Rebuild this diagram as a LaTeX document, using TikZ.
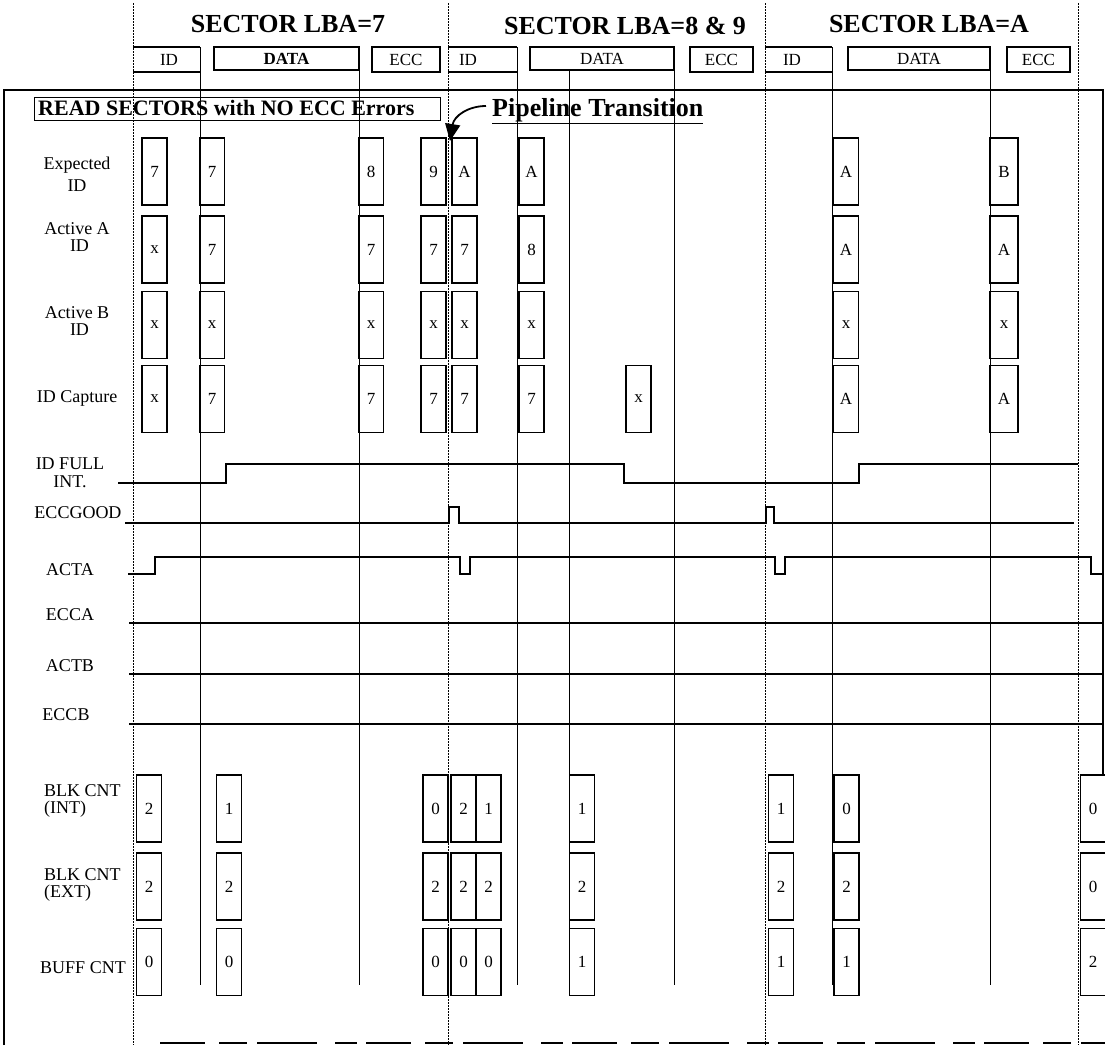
\documentclass[tikz,border=0pt]{standalone}
\usepackage{fontspec}
\setmainfont{Liberation Serif}
\usetikzlibrary{arrows.meta}
\begin{document}
\begin{tikzpicture}[x=1pt,y=-1pt,
  cell/.style={draw,line width=1.3pt,minimum width=25pt,minimum height=67pt,inner sep=0pt,font=\fontsize{17}{17}\selectfont},
  lbl/.style={font=\fontsize{18}{18}\selectfont,align=center,inner sep=0pt},
  hbox/.style={draw,line width=1.2pt,inner sep=0pt,font=\fontsize{17}{17}\selectfont},
  htxt/.style={inner sep=0pt,font=\fontsize{17}{17}\selectfont},
  hline/.style={line width=1.2pt},
  ttl/.style={font=\bfseries\fontsize{26}{26}\selectfont,inner sep=0pt,anchor=base},
  dotl/.style={line width=1pt,dash pattern=on 1.5pt off 1.5pt},
  sol/.style={line width=1pt},
  wave/.style={line width=1.5pt},
  frame/.style={line width=1.4pt},
]
\useasboundingbox (0,0) rectangle (1105,1045);

% titles
\node[ttl] (t1) at (288,32) {SECTOR LBA=7};
\node[ttl] (t2) at (625,34) {SECTOR LBA=8 \& 9};
\node[ttl] (t3) at (929,32) {SECTOR LBA=A};

% frame
\draw[frame] (4,1045) -- (4,90) -- (1103,90) -- (1103,776);
\draw[frame,dash pattern=on 45pt off 14pt on 28pt off 10pt on 60pt off 18pt on 22pt off 9pt] (160,1043) -- (1105,1043);

% dotted sector boundaries
\foreach \i/\x in {1/133,2/448,3/765,4/1078}{
  \coordinate (dt\i) at (\x,3);
  \coordinate (db\i) at (\x,1045);
  \draw[dotl] (dt\i) -- (db\i);
}

% solid vertical lines
\foreach \i/\x/\y in {1/200/47,2/359/47,3/517/47,4/569/70,5/674/47,6/832/47,7/990/47}{
  \coordinate (st\i) at (\x,\y);
  \coordinate (sb\i) at (\x,985);
  \draw[sol] (st\i) -- (sb\i);
}

% header field boxes
\draw[hline] (133,47) -- (200,47) (133,72) -- (200,72);
\draw[hline] (448,47) -- (517,47) (448,72) -- (517,72);
\draw[hline] (765,47) -- (832,47) (765,72) -- (832,72);
\node[htxt] (hid1) at (169,59.5) {ID};
\node[htxt] (hid2) at (468,59.5) {ID};
\node[htxt] (hid3) at (792,59.5) {ID};
\node[hbox,minimum width=145pt,minimum height=23pt] (hdata1) at (286.5,58.5) {\textbf{DATA}};
\node[hbox,minimum width=144pt,minimum height=23pt] (hdata2) at (602,58.5) {DATA};
\node[hbox,minimum width=142pt,minimum height=23pt] (hdata3) at (919,58.5) {DATA};
\node[hbox,minimum width=68pt,minimum height=25pt] (hecc1) at (406,59.5) {ECC};
\node[hbox,minimum width=63pt,minimum height=25pt] (hecc2) at (721.5,59.5) {ECC};
\node[hbox,minimum width=63pt,minimum height=25pt] (hecc3) at (1038.5,59.5) {ECC};

% read box and pipeline note
\node[draw,line width=1.3pt,anchor=north west,minimum width=406pt,minimum height=23pt,inner sep=0pt] (readbox) at (34,97) {};
\node[anchor=base west,inner sep=0pt,font=\bfseries\fontsize{22}{22}\selectfont] (readtxt) at (38,115) {READ SECTORS with NO ECC Errors};
\node[anchor=base west,inner sep=0pt,font=\bfseries\fontsize{26}{26}\selectfont] (pipe) at (492,116) {\underline{Pipeline Transition}};
\coordinate (arrs) at (486,106);
\coordinate (arre) at (450,141);
\draw[line width=1.8pt,-{Triangle[length=17pt,width=15pt]}] (arrs) .. controls (468,106) and (454,116) .. (arre);

% row labels
\node[lbl,font=\fontsize{18}{22}\selectfont] (lexp) at (77,174) {Expected\\ID};
\node[lbl,font=\fontsize{18}{17}\selectfont] (lacta) at (77,237) {Active A\\\hspace*{5pt}ID};
\node[lbl,font=\fontsize{18}{17}\selectfont] (lactb) at (77,321) {Active B\\\hspace*{5pt}ID};
\node[lbl] (lcap) at (77,398) {ID Capture};
\node[lbl,font=\fontsize{18}{18}\selectfont] (lfull) at (70,473) {ID FULL\\INT.};
\node[lbl] (lgood) at (78,513) {ECCGOOD};
\node[lbl] (lacta2) at (70,570) {ACTA};
\node[lbl] (lecca) at (70,615) {ECCA};
\node[lbl] (lactb2) at (70,666) {ACTB};
\node[lbl] (leccb) at (66,715) {ECCB};
\node[lbl,align=left,anchor=west,font=\fontsize{18}{17}\selectfont] (lint) at (44,801) {BLK CNT\\(INT)};
\node[lbl,align=left,anchor=west,font=\fontsize{18}{17}\selectfont] (lext) at (44,885) {BLK CNT\\(EXT)};
\node[lbl] (lbuf) at (83,968) {BUFF CNT};

% waveforms
\draw[wave] (118,483) -- (226,483) -- (226,464) -- (624,464) -- (624,483) -- (859,483) -- (859,464) -- (1078,464);
\draw[wave] (125,523) -- (449,523) -- (449,507) -- (459,507) -- (459,523) -- (766,523) -- (766,507) -- (774,507) -- (774,523) -- (1074,523);
\draw[line width=2pt] (128,574) -- (155,574) -- (155,557) -- (460,557) -- (460,574) -- (470,574) -- (470,557) -- (775,557) -- (775,574) -- (785,574) -- (785,557) -- (1091,557) -- (1091,574) -- (1104,574);
\draw[wave] (129,623) -- (1102,623);
\draw[wave] (129,674) -- (1102,674);
\draw[wave] (129,724) -- (1102,724);

% upper value boxes
\foreach \nm/\x/\t in {ea/154.5/7,eb/212/7,ec/371/8,ed/433.5/9,ee/464.5/A,ef/531.5/A,eh/846/A}
  \node[cell] (\nm) at (\x,171.5) {\t};
\node[cell,minimum width=28pt] (ei) at (1004,171.5) {B};
\foreach \nm/\x/\t in {aa/154.5/x,ab/212/7,ac/371/7,ad/433.5/7,ae/464.5/7,af/531.5/8,ah/846/A}
  \node[cell] (\nm) at (\x,249.5) {\t};
\node[cell,minimum width=28pt] (ai) at (1004,249.5) {A};
\foreach \nm/\x/\t in {ba/154.5/x,bb/212/x,bc/371/x,bd/433.5/x,be/464.5/x,bf/531.5/x,bh/846/x}
  \node[cell] (\nm) at (\x,325) {\t};
\node[cell,minimum width=28pt] (bi) at (1004,325) {x};
\foreach \nm/\x/\t in {ca/154.5/x,cb/212/7,cc/371/7,cd/433.5/7,ce/464.5/7,cf/531.5/7,cg/638.5/x,ch/846/A}
  \node[cell] (\nm) at (\x,399) {\t};
\node[cell,minimum width=28pt] (ci) at (1004,399) {A};

% lower count boxes
\foreach \nm/\x/\t in {i1/149/2,i2/229/1,i3/435.5/0,i4/463.5/2,i5/488.5/1,i6/582/1,i7/781/1,i8/846.5/0,i9/1093/0}
  \node[cell] (\nm) at (\x,808.5) {\t};
\foreach \nm/\x/\t in {x1/149/2,x2/229/2,x3/435.5/2,x4/463.5/2,x5/488.5/2,x6/582/2,x7/781/2,x8/846.5/2,x9/1093/0}
  \node[cell] (\nm) at (\x,886.5) {\t};
\foreach \nm/\x/\t in {f1/149/0,f2/229/0,f3/435.5/0,f4/463.5/0,f5/488.5/0,f6/582/1,f7/781/1,f8/846.5/1,f9/1093/2}
  \node[cell] (\nm) at (\x,962) {\t};
\end{tikzpicture}
\end{document}
